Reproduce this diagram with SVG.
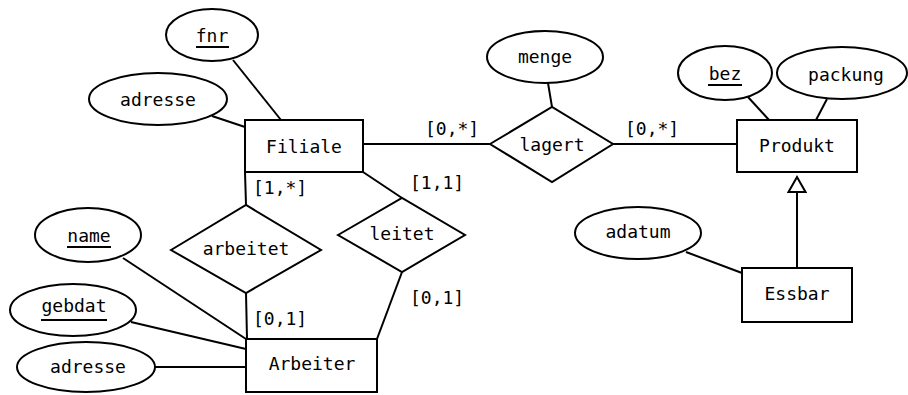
<svg xmlns="http://www.w3.org/2000/svg" width="908" height="395" viewBox="0 0 908 395">
<style>
.s{fill:#fff;stroke:#000;stroke-width:2}
.c{fill:none;stroke:#000;stroke-width:2}
text{font-family:"DejaVu Sans Mono","Liberation Mono",monospace;font-size:18px;fill:#000}
.m{text-anchor:middle}
</style>
<defs>
<marker id="tri" markerUnits="userSpaceOnUse" markerWidth="20" markerHeight="20" viewBox="0 0 20 20" refX="17" refY="10" orient="auto">
<path d="M2,1.5 L17,10 L2,18.5 Z" fill="#fff" stroke="#000" stroke-width="2"/>
</marker>
</defs>
<rect width="908" height="395" fill="#fff"/>
<g id="connectors">
<line class="c" x1="233" y1="60" x2="281" y2="120"/>
<line class="c" x1="212" y1="116" x2="245" y2="127"/>
<line class="c" x1="363" y1="144" x2="490" y2="144"/>
<line class="c" x1="613" y1="144" x2="737" y2="144"/>
<line class="c" x1="548" y1="83" x2="552" y2="107"/>
<line class="c" x1="748" y1="97" x2="769" y2="120"/>
<line class="c" x1="827" y1="99" x2="816" y2="120"/>
<line class="c" x1="797" y1="268" x2="797" y2="177" marker-end="url(#tri)"/>
<line class="c" x1="686" y1="252" x2="742" y2="273"/>
<line class="c" x1="245" y1="172" x2="246" y2="205"/>
<line class="c" x1="246" y1="293" x2="247" y2="339"/>
<line class="c" x1="363" y1="172" x2="402" y2="198"/>
<line class="c" x1="402" y1="272" x2="377" y2="339"/>
<line class="c" x1="123" y1="258" x2="246" y2="339"/>
<line class="c" x1="131" y1="322" x2="246" y2="349"/>
<line class="c" x1="155" y1="367" x2="246" y2="367"/>
<text x="425" y="135">[0,*]</text>
<text x="625" y="135">[0,*]</text>
<text x="253" y="194">[1,*]</text>
<text x="410" y="189">[1,1]</text>
<text x="253" y="325">[0,1]</text>
<text x="410" y="304">[0,1]</text>
</g>
<g id="Filiale"><rect class="s" x="245" y="120" width="118" height="52"/><text class="m" x="304" y="153">Filiale</text></g>
<g id="fnr"><ellipse class="s" cx="212" cy="35" rx="46" ry="26"/><text class="m" x="212" y="42">fnr</text><line class="c" x1="196" y1="47" x2="229" y2="47"/></g>
<g id="adresse1"><ellipse class="s" cx="158" cy="99" rx="69" ry="26"/><text class="m" x="158" y="106">adresse</text></g>
<g id="lagert"><polygon class="s" points="490,144 552,107 613,144 552,182"/><text class="m" x="552" y="151">lagert</text></g>
<g id="menge"><ellipse class="s" cx="545" cy="57" rx="58" ry="26"/><text class="m" x="545" y="63">menge</text></g>
<g id="Produkt"><rect class="s" x="737" y="120" width="120" height="52"/><text class="m" x="797" y="152">Produkt</text></g>
<g id="bez"><ellipse class="s" cx="725" cy="73" rx="47" ry="27"/><text class="m" x="725" y="80">bez</text><line class="c" x1="708" y1="85" x2="742" y2="85"/></g>
<g id="packung"><ellipse class="s" cx="842" cy="73" rx="65" ry="26"/><text class="m" x="846" y="81">packung</text></g>
<g id="Essbar"><rect class="s" x="742" y="268" width="110" height="54"/><text class="m" x="797" y="300">Essbar</text></g>
<g id="adatum"><ellipse class="s" cx="638" cy="233" rx="63" ry="26"/><text class="m" x="638" y="238">adatum</text></g>
<g id="arbeitet"><polygon class="s" points="171,250 246,205 321,250 246,293"/><text class="m" x="246" y="255">arbeitet</text></g>
<g id="leitet"><polygon class="s" points="338,235 402,198 465,235 402,272"/><text class="m" x="402" y="240">leitet</text></g>
<g id="Arbeiter"><rect class="s" x="246" y="339" width="131" height="53"/><text class="m" x="312" y="370">Arbeiter</text></g>
<g id="name"><ellipse class="s" cx="88" cy="235" rx="53" ry="27"/><text class="m" x="89" y="242">name</text><line class="c" x1="67" y1="247" x2="111" y2="247"/></g>
<g id="gebdat"><ellipse class="s" cx="73" cy="310" rx="63" ry="26"/><text class="m" x="74" y="312">gebdat</text><line class="c" x1="41" y1="320" x2="107" y2="320"/></g>
<g id="adresse2"><ellipse class="s" cx="86" cy="367" rx="69" ry="25"/><text class="m" x="88" y="373">adresse</text></g>
</svg>
